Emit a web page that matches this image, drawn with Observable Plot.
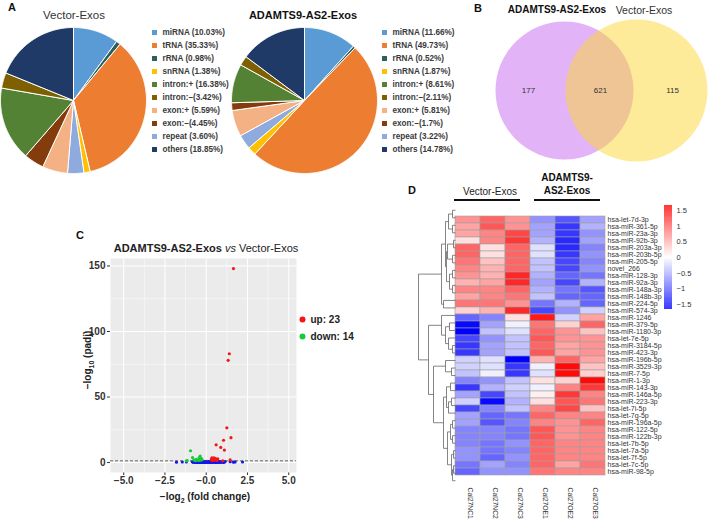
<!DOCTYPE html>
<html><head><meta charset="utf-8">
<script src="https://cdn.jsdelivr.net/npm/d3@7"></script>
<script src="https://cdn.jsdelivr.net/npm/@observablehq/plot@0.6"></script>
<style>
body{margin:0;background:#fff;font-family:"Liberation Sans",Arial,sans-serif;color:#222;}
#root{position:relative;width:709px;height:520px;overflow:hidden;background:#fff;}
.abs{position:absolute;white-space:nowrap;line-height:1;}
.abs svg{display:block;}
</style></head><body><div id="root"></div>
<script>
// ---------------- DATA ----------------
const rnaTypes = ["miRNA","tRNA","rRNA","snRNA","intron:+","intron:–","exon:+","exon:–","repeat","others"];
const vectorPct = [10.03,35.33,0.98,1.38,16.38,3.42,5.59,4.45,3.60,18.85];
const adamtsPct = [11.66,49.73,0.52,1.87,8.61,2.11,5.81,1.7,3.22,14.78];
const vectorLegend = ["miRNA (10.03%)","tRNA (35.33%)","rRNA (0.98%)","snRNA (1.38%)","intron:+ (16.38%)","intron:–(3.42%)","exon:+ (5.59%)","exon:–(4.45%)","repeat (3.60%)","others (18.85%)"];
const adamtsLegend = ["miRNA (11.66%)","tRNA (49.73%)","rRNA (0.52%)","snRNA (1.87%)","intron:+ (8.61%)","intron:–(2.11%)","exon:+ (5.81%)","exon:–(1.7%)","repeat (3.22%)","others (14.78%)"];
const pieOrder = ["miRNA","rRNA","tRNA","snRNA","repeat","exon:+","exon:–","intron:+","intron:–","others"];
const rnaColors = ["#5b9bd5","#ed7d31","#2b5f60","#ffc000","#548235","#7f6000","#f4b183","#843c0c","#8faadc","#1f3a66"];

const vennSets = ["ADAMTS9-AS2-Exos","Vector-Exos"];
const vennCounts = [177,621,115]; // only ADAMTS9, both, only Vector

const upPoints = [[1.65,148],[1.4,83],[1.33,78],[1.25,26.5],[1.5,19],[1.05,17],[0.6,13.5],[0.88,11.5],[1.1,9.5],[0.35,3.6],[0.4,2.8],[0.47,3.6],[0.56,3.0],[0.6,2.2],[0.3,2.0],[0.5,1.8],[0.38,1.6],[0.66,1.6],[1.45,2.0],[1.0,1.3],[0.7,2.8],[0.43,2.2],[0.33,2.8]];
const downPoints = [[-0.95,9],[-0.83,3.8],[-0.75,2.0],[-1.15,1.5],[-1.2,1.2],[-0.37,5.0],[-0.42,3.8],[-0.3,3.2],[-0.5,2.0],[-0.6,2.5],[-0.25,2.2],[-0.45,1.5],[-0.35,1.8],[-0.65,1.4]];
const otherPoints = [[-1.8,0.3],[-1.45,0.4],[-1.2,0.5],[1.65,0.3],[1.75,0.5],[2.2,0.4],[1.45,0.6],
 [-0.85,0.6],[-0.8,0.2],[-0.75,0.9],[-0.7,0.3],[-0.68,0.1],[-0.65,0.7],[-0.6,0.2],[-0.58,0.5],[-0.55,0.05],[-0.52,0.9],[-0.5,0.3],[-0.48,0.6],[-0.45,0.1],[-0.42,0.8],[-0.4,0.4],[-0.38,0.15],[-0.35,0.6],[-0.32,0.3],[-0.3,0.05],[-0.28,0.9],[-0.25,0.4],[-0.22,0.2],[-0.2,0.7],[-0.18,0.1],[-0.15,0.5],[-0.12,0.25],[-0.1,0.8],[-0.08,0.05],[-0.05,0.4],[-0.02,0.6],[0,0.15],[0.03,0.9],[0.05,0.3],[0.08,0.5],[0.1,0.1],[0.12,0.7],[0.15,0.35],[0.18,0.05],[0.2,0.6],[0.22,0.25],[0.25,0.9],[0.28,0.4],[0.3,0.1],[0.33,0.6],[0.35,0.3],[0.4,0.8],[0.42,0.15],[0.45,0.5],[0.5,0.3],[0.52,0.9],[0.55,0.1],[0.6,0.6],[0.62,0.3],[0.65,0.05],[0.7,0.7],[0.72,0.25],[0.75,0.5],[0.8,0.1],[0.82,0.8],[0.85,0.35],[0.9,0.6],[0.95,0.2],[1.0,0.5],[1.05,0.1],[1.1,0.4],[1.15,0.7]];
const volcanoLegend = ["up: 23","down: 14"];
const xMajor = [-5,-2.5,0,2.5,5];
const xTickLabels = ["−5.0","−2.5","−0.0","2.5","5.0"];
const xMinor = [-3.75,-1.25,1.25,3.75];
const yMajor = [0,50,100,150];
const yMinor = [25,75,125];
const padjCut = 1.3;

const colLabels = ["Cal27NC1","Cal27NC2","Cal27NC3","Cal27OE1","Cal27OE2","Cal27OE3"];
const rowLabels = ["hsa-let-7d-3p","hsa-miR-361-5p","hsa-miR-23a-3p","hsa-miR-92b-3p","hsa-miR-203a-3p","hsa-miR-203b-5p","hsa-miR-205-5p","novel_266","hsa-miR-128-3p","hsa-miR-92a-3p","hsa-miR-148a-3p","hsa-miR-148b-3p","hsa-miR-224-5p","hsa-miR-574-3p","hsa-miR-1246","hsa-miR-379-5p","hsa-miR-1180-3p","hsa-let-7e-5p","hsa-miR-3184-5p","hsa-miR-423-3p","hsa-miR-196b-5p","hsa-miR-3529-3p","hsa-miR-7-5p","hsa-miR-1-3p","hsa-miR-143-3p","hsa-miR-146a-5p","hsa-miR-223-3p","hsa-let-7i-5p","hsa-let-7g-5p","hsa-miR-196a-5p","hsa-miR-122-5p","hsa-miR-122b-3p","hsa-let-7b-5p","hsa-let-7a-5p","hsa-let-7f-5p","hsa-let-7c-5p","hsa-miR-98-5p"];
const zValues = [
 [0.7,1.0,0.7,-0.7,-1.1,-0.6],
 [0.6,1.1,0.7,-0.6,-1.3,-0.5],
 [0.6,0.8,1.2,-0.6,-1.3,-0.7],
 [0.2,0.8,1.3,-0.5,-1.4,-0.6],
 [1.0,0.2,1.0,-0.2,-1.4,-0.8],
 [1.0,0.2,1.0,-0.2,-1.3,-0.7],
 [0.9,0.4,1.0,-0.4,-1.2,-0.8],
 [0.8,0.5,1.0,-0.4,-1.2,-0.7],
 [0.7,0.5,1.4,-0.5,-1.0,-0.9],
 [0.5,0.6,1.4,-0.6,-1.2,-0.5],
 [0.8,0.8,1.0,-0.5,-0.9,-1.1],
 [0.6,0.8,0.9,-0.4,-1.0,-1.0],
 [0.9,0.9,0.7,-0.9,-0.5,-1.0],
 [0.3,0.5,1.4,-1.2,-0.7,-0.3],
 [-1.0,-0.8,0.2,1.5,-0.3,0.6],
 [-1.6,-0.6,-0.1,0.9,0.3,1.0],
 [-1.7,-0.4,-0.2,1.0,0.7,0.4],
 [-1.2,-0.7,-0.4,1.1,0.7,0.7],
 [-1.3,-0.6,-0.4,1.0,0.6,0.7],
 [-1.3,-0.6,-0.4,1.1,0.6,0.7],
 [-0.3,-0.2,-1.7,0.5,1.0,0.6],
 [-0.3,-0.2,-1.3,-0.1,1.6,0.4],
 [-0.4,-0.1,-1.3,-0.2,1.6,0.3],
 [-0.8,-0.7,-0.4,0.2,0.3,1.6],
 [-1.3,-0.5,-0.3,-0.1,0.8,1.3],
 [-0.6,-1.2,-0.4,0.1,1.3,0.8],
 [-0.3,-1.6,-0.5,0.2,1.1,0.9],
 [-1.2,-0.8,-0.4,0.8,1.2,0.4],
 [-0.6,-1.0,-0.9,1.0,0.8,0.8],
 [-0.6,-1.1,-0.8,0.8,0.7,1.0],
 [-0.8,-0.8,-0.9,1.1,0.7,0.8],
 [-0.8,-0.8,-0.9,1.1,0.7,0.8],
 [-0.8,-0.9,-0.7,1.0,0.8,0.8],
 [-0.7,-0.9,-0.8,1.0,0.8,0.8],
 [-0.7,-1.0,-0.7,1.0,0.8,0.8],
 [-0.9,-0.6,-0.8,1.0,0.6,0.9],
 [-1.0,-0.7,-0.7,0.9,0.8,0.8]];
// row dendrogram: [mergeHeight, left, right]; leaves are row indexes
const rowTree = [37,
  [14, [10, [7,[3,0,1],[3,2,3]], [9,[8,[2,4,5],[3,6,7]],[6,[3,8,9],[3,10,11]]]], [12,12,13]],
  [27, [14, 14, [10,[6,15,16],[7,17,[3,18,19]]]],
       [22, [10,20,[4,21,22]], [12, [9,[5,23,24],[7,[4,25,26],27]], [8,[5,[3,28,29],[3,30,31]],[4,[2,32,33],[3,[2,34,35],36]]]]]]];
const colorTicks = [-1.5,-1,-0.5,0,0.5,1,1.5];

// ---------------- HELPERS ----------------
const root = document.getElementById("root");
const FONT = "'Liberation Sans', Arial, sans-serif";
function place(el, left, top){ const d=document.createElement("div"); d.className="abs"; d.style.left=left+"px"; d.style.top=top+"px"; d.appendChild(el); root.appendChild(d); return d;}
function label(html, left, top, css){ const d=document.createElement("div"); d.className="abs"; d.style.left=left+"px"; d.style.top=top+"px"; d.innerHTML=html; Object.assign(d.style, css||{}); root.appendChild(d); return d;}
const style = (extra) => Object.assign({fontFamily:FONT, background:"transparent", overflow:"visible", color:"#333"}, extra||{});

// ---------------- PANEL A: pies ----------------
function pieChart(pcts){
  const items = pieOrder.map(k => ({key:k, v:pcts[rnaTypes.indexOf(k)]}));
  const arcs = d3.pie().sort(null).value(d => d.v)(items);
  const pts = [];
  for (const a of arcs){
    const n = Math.max(2, Math.ceil((a.endAngle - a.startAngle)/0.01));
    pts.push({key:a.data.key, x:0, y:0});
    for (let j=0;j<=n;j++){ const t = a.startAngle + (a.endAngle-a.startAngle)*j/n; pts.push({key:a.data.key, x:Math.sin(t), y:Math.cos(t)}); }
    pts.push({key:a.data.key, x:0, y:0});
  }
  return Plot.plot({width:146, height:146, margin:0,
    x:{domain:[-1,1], axis:null}, y:{domain:[-1,1], axis:null},
    color:{domain:rnaTypes, range:rnaColors},
    style:style(),
    marks:[Plot.line(pts, {x:"x", y:"y", z:"key", fill:"key", stroke:"white", strokeWidth:1, strokeLinejoin:"round"})]});
}
function pieLegend(labels){
  const idx = d3.range(labels.length);
  return Plot.plot({width:110, height:136, marginTop:6, marginBottom:6, marginLeft:4, marginRight:0,
    x:{domain:[0,1], axis:null}, y:{type:"point", domain:labels, padding:0, axis:null},
    color:{domain:rnaTypes, range:rnaColors},
    style:style({fontSize:"8.2px", fontWeight:"bold", color:"#3a3a3a"}),
    marks:[
      Plot.dot(idx, {y:i => labels[i], fill:i => rnaTypes[i], symbol:"square", r:2.8, frameAnchor:"left"}),
      Plot.text(idx, {y:i => labels[i], text:i => labels[i], frameAnchor:"left", dx:8, textAnchor:"start", fill:"#3a3a3a"})
    ]});
}
place(pieChart(vectorPct), 0, 27);
place(pieChart(adamtsPct), 231, 27);
place(pieLegend(vectorLegend), 150, 22);
place(pieLegend(adamtsLegend), 380, 22);
label("A", 8, 2, {fontWeight:"bold", fontSize:"11px", color:"#111"});
label("Vector-Exos", 74, 10, {fontSize:"11.5px", transform:"translateX(-50%)", color:"#333"});
label("ADAMTS9-AS2-Exos", 303, 10, {fontSize:"11px", fontWeight:"bold", transform:"translateX(-50%)", color:"#111"});

// ---------------- PANEL B: Venn ----------------
(function(){
  const unit = 72;
  const venn = Plot.plot({width:219, height:140, margin:0,
    x:{domain:[-110/unit, 109/unit], axis:null}, y:{domain:[-1,1], axis:null},
    style:style({fontSize:"8px"}),
    marks:[
      Plot.dot([vennSets[0]], {x:() => -0.5, y:() => 0, r:69, fill:"#e2b3f7"}),
      Plot.dot([vennSets[1]], {x:() => 0.5, y:() => 0, r:71, fill:"#fbd834", fillOpacity:0.5}),
      Plot.text(vennCounts, {x:(d,i) => i-1, y:() => 0, text:d => String(d), fill:"#333"})
    ]});
  place(venn, 490, 20);
})();
label("B", 474, 3, {fontWeight:"bold", fontSize:"11px", color:"#111"});
label("ADAMTS9-AS2-Exos", 557, 5, {fontSize:"10px", fontWeight:"bold", color:"#111", transform:"translateX(-50%)"});
label("Vector-Exos", 644, 5, {fontSize:"10.5px", color:"#333", transform:"translateX(-50%)"});

// ---------------- PANEL C: volcano ----------------
(function(){
  const toObj = (arr) => arr.map(([x,y]) => ({x,y}));
  const v = Plot.plot({width:250, height:270, marginLeft:50, marginTop:18, marginRight:14, marginBottom:38,
    x:{domain:[-5.8,5.47], ticks:xMajor, tickFormat:d => xTickLabels[xMajor.indexOf(d)], label:null, tickSize:3, tickPadding:1},
    y:{domain:[-7.6,155.7], ticks:yMajor, label:null, tickSize:3, tickPadding:2},
    style:style({fontSize:"10px", fontWeight:"bold", color:"#333"}),
    marks:[
      Plot.frame({fill:"#ebebeb", stroke:"none"}),
      Plot.ruleX(xMinor, {stroke:"white", strokeWidth:0.5}),
      Plot.ruleY(yMinor, {stroke:"white", strokeWidth:0.5}),
      Plot.ruleX(xMajor, {stroke:"white", strokeWidth:1}),
      Plot.ruleY(yMajor, {stroke:"white", strokeWidth:1}),
      Plot.dot(toObj(otherPoints), {x:"x", y:"y", r:1.6, fill:"#1515f0"}),
      Plot.ruleY([padjCut], {stroke:"#444", strokeWidth:0.8, strokeDasharray:"3,2"}),
      Plot.dot(toObj(downPoints), {x:"x", y:"y", r:1.6, fill:"#19c93a"}),
      Plot.dot(toObj(upPoints), {x:"x", y:"y", r:1.6, fill:"#f41616"})
    ]});
  place(v, 60, 240);
  const lg = Plot.plot({width:70, height:34, marginTop:8, marginBottom:9, marginLeft:6, marginRight:0,
    x:{domain:[0,1], axis:null}, y:{type:"point", domain:volcanoLegend, padding:0, axis:null},
    style:style({fontSize:"10px", fontWeight:"bold", color:"#222"}),
    marks:[
      Plot.dot(volcanoLegend, {y:d => d, fill:(d,i) => ["#f41616","#19c93a"][i], r:3, frameAnchor:"left"}),
      Plot.text(volcanoLegend, {y:d => d, text:d => d, frameAnchor:"left", dx:8, textAnchor:"start", fill:"#222"})
    ]});
  place(lg, 296, 311);
})();
label("C", 76, 230, {fontWeight:"bold", fontSize:"11px", color:"#111"});
label("<b>ADAMTS9-AS2-Exos</b> <i>vs</i> Vector-Exos", 206, 243, {fontSize:"11px", transform:"translateX(-50%)", color:"#222"});
label("−log<sub style='font-size:7px'>10</sub> (padj)", 89, 360, {fontSize:"10px", fontWeight:"bold", transform:"translate(-50%,-50%) rotate(-90deg)", color:"#222"});
label("−log<sub style='font-size:7px'>2</sub> (fold change)", 205, 492, {fontSize:"10px", fontWeight:"bold", transform:"translateX(-50%)", color:"#222"});

// ---------------- PANEL D: heatmap ----------------
(function(){
  const cells = [];
  zValues.forEach((row, i) => row.forEach((z, j) => cells.push({row:rowLabels[i], col:colLabels[j], z})));
  const colorScale = {type:"linear", domain:[-1.66,0,1.66], range:["#0000ff","#ffffff","#ff0000"], interpolate:"rgb"};
  const hm = Plot.plot({width:205, height:300, marginLeft:0, marginRight:55, marginTop:0, marginBottom:22,
    x:{domain:colLabels, padding:0, axis:null},
    y:{domain:rowLabels, padding:0, axis:"right", tickSize:0, tickPadding:2, label:null},
    color:colorScale,
    style:style({fontSize:"7px", color:"#333"}),
    marks:[
      Plot.cell(cells, {x:"col", y:"row", fill:"z", stroke:"#a0a0a0", strokeWidth:0.6, inset:0}),
      Plot.text(colLabels, {x:d => d, text:d => d, frameAnchor:"bottom", rotate:90, textAnchor:"start", dy:3, fontSize:6.8, fill:"#333"})
    ]});
  place(hm, 455, 206);

  // dendrogram
  const segs = [];
  function lay(node){
    if (typeof node === "number") return {y:node+0.5, h:0};
    const [h,a,b] = node; const A = lay(a), B = lay(b);
    segs.push({x1:h,y1:A.y,x2:h,y2:B.y},{x1:h,y1:A.y,x2:A.h,y2:A.y},{x1:h,y1:B.y,x2:B.h,y2:B.y});
    return {y:(A.y+B.y)/2, h};
  }
  lay(rowTree);
  const dendro = Plot.plot({width:40, height:278, margin:0,
    x:{domain:[40,0], range:[0,40], axis:null}, y:{domain:[0,rowLabels.length], range:[0,278], axis:null},
    style:style(),
    marks:[Plot.link(segs, {x1:"x1", y1:"y1", x2:"x2", y2:"y2", stroke:"#666", strokeWidth:0.8})]});
  place(dendro, 415, 206);

  // color bar
  const steps = d3.range(-1.66, 1.66, 0.02);
  const cb = Plot.plot({width:40, height:104, marginLeft:0, marginRight:32, marginTop:0, marginBottom:0,
    x:{domain:[0,1], axis:null},
    y:{domain:[-1.66,1.66], ticks:colorTicks, tickFormat:d => String(d).replace("-","−"), axis:"right", tickSize:0, tickPadding:4, label:null},
    color:colorScale,
    style:style({fontSize:"7.5px", color:"#333"}),
    marks:[Plot.rect(steps, {x1:0, x2:1, y1:d => d, y2:d => d + 0.021, fill:d => d + 0.01})]});
  place(cb, 664, 205);
})();
label("D", 408, 185, {fontWeight:"bold", fontSize:"11px", color:"#111"});
label("Vector-Exos", 490, 187, {fontSize:"10px", transform:"translateX(-50%)", color:"#222"});
label("ADAMTS9-", 567, 173, {fontSize:"10px", fontWeight:"bold", transform:"translateX(-50%)", color:"#111"});
label("AS2-Exos", 567, 186, {fontSize:"10px", fontWeight:"bold", transform:"translateX(-50%)", color:"#111"});
label("", 454, 199, {width:"66px", height:"1.6px", background:"#111"});
label("", 534, 199, {width:"66px", height:"1.6px", background:"#111"});
</script></body></html>
